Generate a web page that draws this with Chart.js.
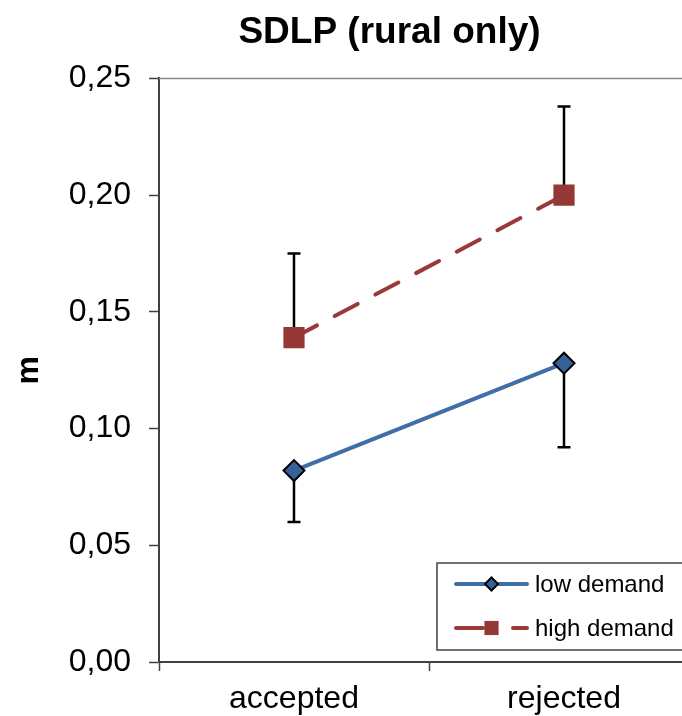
<!DOCTYPE html>
<html>
<head>
<meta charset="utf-8">
<script src="https://cdn.jsdelivr.net/npm/chart.js@4.4.1/dist/chart.umd.min.js"></script>
<style>
  html, body { margin: 0; padding: 0; background: #fff; overflow: hidden; }
  #wrap { position: relative; width: 682px; height: 716px; overflow: hidden; }
  canvas { position: absolute; left: 0; top: 0; }
</style>
</head>
<body>
<div id="wrap"><canvas id="sdlp" width="779" height="716"></canvas></div>
<script>
// ----- data -----
const categories = ["accepted", "rejected"];
const lowDemand = [0.082, 0.128];
const highDemand = [0.139, 0.200];
const lowDemandErrEnd = [0.060, 0.092];   // whisker drawn downward
const highDemandErrEnd = [0.175, 0.238];  // whisker drawn upward
const yTicks = [0, 0.05, 0.10, 0.15, 0.20, 0.25];

const FONT = "'Liberation Sans', Arial, sans-serif";
const C_LOW = "#3F6FA6", C_LOW_PT = "#36629A";
const C_HIGH = "#9A3A38", C_HIGH_PT = "#953735";
const fmt = (v) => Number(v).toFixed(2).replace(".", ",");

// plot frame: grey box round the plot area
const framePlugin = {
  id: "frame",
  beforeDatasetsDraw(chart) {
    const { ctx, chartArea: a } = chart;
    ctx.save();
    ctx.strokeStyle = "#8C8C8C"; ctx.lineWidth = 1.5;
    ctx.beginPath();
    ctx.moveTo(a.left, a.top); ctx.lineTo(a.right, a.top); ctx.lineTo(a.right, a.bottom);
    ctx.stroke();
    ctx.restore();
  }
};

// one-sided error bars
const errPlugin = {
  id: "errbars",
  beforeDatasetsDraw(chart) {
    const { ctx, scales: { x, y } } = chart;
    const sets = [[lowDemand, lowDemandErrEnd], [highDemand, highDemandErrEnd]];
    ctx.save();
    ctx.strokeStyle = "#000"; ctx.lineWidth = 2.5;
    sets.forEach(([vals, ends]) => {
      vals.forEach((v, i) => {
        const px = x.getPixelForValue(i), y0 = y.getPixelForValue(v), y1 = y.getPixelForValue(ends[i]);
        ctx.beginPath();
        ctx.moveTo(px, y0); ctx.lineTo(px, y1);
        ctx.moveTo(px - 6.5, y1); ctx.lineTo(px + 6.5, y1);
        ctx.stroke();
      });
    });
    ctx.restore();
  }
};

// boxed legend inside the plot, bottom right
const legendBoxPlugin = {
  id: "legendBox",
  afterDatasetsDraw(chart) {
    const { ctx, chartArea: a } = chart;
    const bx = a.left + 278, by = a.bottom - 99, bw = 260, bh = 87;
    ctx.save();
    ctx.fillStyle = "#fff"; ctx.fillRect(bx, by, bw, bh);
    ctx.strokeStyle = "#404040"; ctx.lineWidth = 1.5; ctx.strokeRect(bx, by, bw, bh);
    const rows = [
      { ds: chart.data.datasets[0], y: by + 21, r: 6.5, dash: [] },
      { ds: chart.data.datasets[1], y: by + 65, r: 10, dash: [27, 30] }
    ];
    rows.forEach(({ ds, y, r, dash }) => {
      const x0 = bx + 19, x1 = bx + 90, xm = (x0 + x1) / 2;
      ctx.strokeStyle = ds.borderColor; ctx.lineWidth = ds.borderWidth;
      ctx.lineCap = "round";
      ctx.setLineDash(dash);
      ctx.beginPath(); ctx.moveTo(x0, y); ctx.lineTo(x1, y); ctx.stroke();
      ctx.setLineDash([]);
      ctx.fillStyle = ds.pointBackgroundColor; ctx.strokeStyle = ds.pointBorderColor;
      ctx.lineWidth = ds.pointBorderWidth;
      Chart.helpers.drawPoint(ctx, { pointStyle: ds.pointStyle, radius: r, rotation: 0, borderWidth: ds.pointBorderWidth }, xm, y);
      ctx.fillStyle = "#000"; ctx.font = "24px " + FONT;
      ctx.textAlign = "left"; ctx.textBaseline = "middle";
      ctx.fillText(ds.label, x1 + 8, y + 1);
    });
    ctx.restore();
  }
};

new Chart(document.getElementById("sdlp").getContext("2d"), {
  type: "line",
  data: {
    labels: categories,
    datasets: [
      {
        label: "low demand", data: lowDemand,
        borderColor: C_LOW, borderWidth: 4, borderCapStyle: "round",
        pointStyle: "rectRot", pointRadius: 10.5, pointHoverRadius: 10.5,
        pointBackgroundColor: C_LOW_PT, pointBorderColor: "#000", pointBorderWidth: 2
      },
      {
        label: "high demand", data: highDemand,
        borderColor: C_HIGH, borderWidth: 4, borderCapStyle: "round", borderDash: [26, 20],
        pointStyle: "rect", pointRadius: 15, pointHoverRadius: 15,
        pointBackgroundColor: C_HIGH_PT, pointBorderColor: C_HIGH_PT, pointBorderWidth: 0
      }
    ]
  },
  options: {
    responsive: false, animation: false, events: [],
    layout: { padding: 0 },
    plugins: {
      legend: { display: false }, tooltip: { enabled: false },
      title: {
        display: true, text: "SDLP (rural only)", color: "#000",
        font: { family: FONT, size: 37, weight: "bold", lineHeight: 1.2 },
        padding: { top: 11, bottom: 23 }
      }
    },
    scales: {
      x: {
        type: "category", offset: true,
        afterFit: (s) => { s.height = 54; },
        grid: { offset: true, drawOnChartArea: false, tickLength: 9, tickColor: "#404040", tickWidth: 1.5 },
        border: { display: true, color: "#404040", width: 2 },
        ticks: { color: "#000", padding: 9, font: { family: FONT, size: 32 } }
      },
      y: {
        min: 0, max: 0.25,
        afterBuildTicks: (s) => { s.ticks = yTicks.map(v => ({ value: v })); },
        afterFit: (s) => { s.width = 159; },
        grid: { drawOnChartArea: false, tickLength: 10, tickColor: "#404040", tickWidth: 1.5 },
        border: { display: true, color: "#404040", width: 2 },
        ticks: { color: "#000", padding: 18, callback: (v) => fmt(v), font: { family: FONT, size: 32 } },
        title: { display: true, text: "m", color: "#000", padding: { top: 10, bottom: 0 },
                 font: { family: FONT, size: 32, weight: "bold" } }
      },
      // empty right-hand spacer so the plot ends at x=699 while the title centres on the full width
      yRight: {
        position: "right", min: 0, max: 0.25,
        afterFit: (s) => { s.width = 80; },
        grid: { display: false }, border: { display: false }, ticks: { display: false }
      }
    }
  },
  plugins: [framePlugin, errPlugin, legendBoxPlugin]
});
</script>
</body>
</html>
